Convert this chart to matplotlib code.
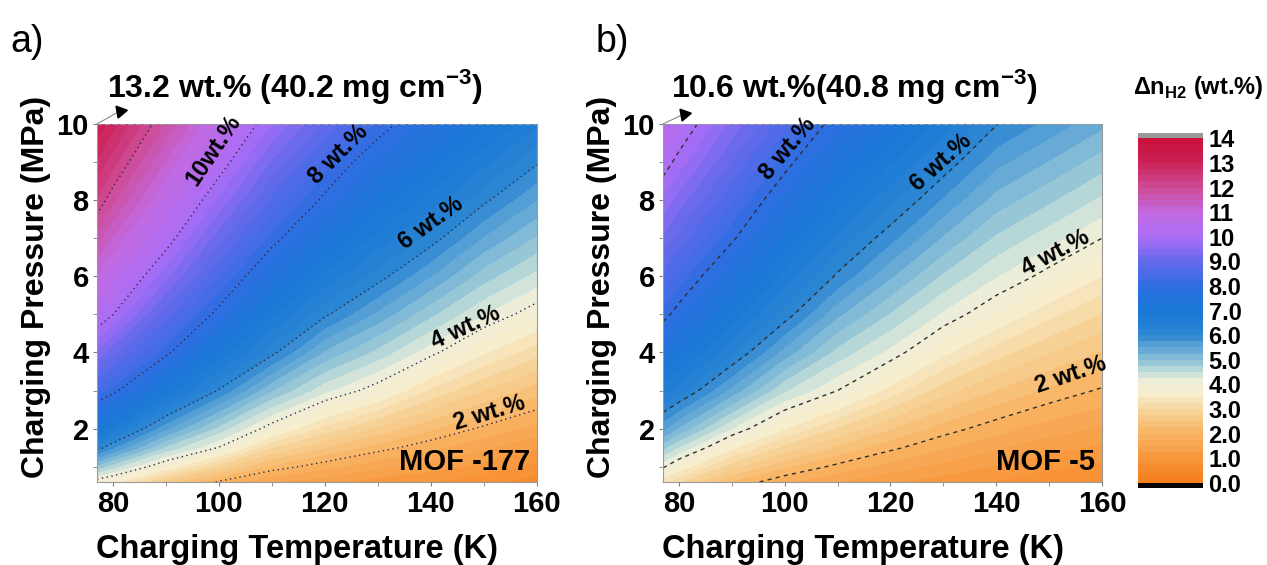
import numpy as np
import matplotlib
matplotlib.use("Agg")
import matplotlib.pyplot as plt
from matplotlib.colors import LinearSegmentedColormap

plt.rcParams['font.family'] = ['Liberation Sans', 'DejaVu Sans']
plt.rcParams['font.weight'] = 'bold'
plt.rcParams['axes.labelweight'] = 'bold'
plt.rcParams['mathtext.fontset'] = 'custom'
plt.rcParams['mathtext.rm'] = 'Liberation Sans'
plt.rcParams['mathtext.bf'] = 'Liberation Sans:bold'

# DATA
temps = [77, 80, 90, 100, 110, 120, 130, 140, 150, 160]          # K
pressures = [0.6, 1, 1.5, 2, 3, 4, 5, 6, 7, 8, 9, 10]             # MPa

# deliverable H2 (wt.%) - one list per temperature, values along pressures
mof177_wt = [
    [3.80, 4.90, 6.15, 6.99, 8.41, 9.44, 10.30, 10.96, 11.63, 12.22, 12.71, 13.20],
    [3.61, 4.58, 5.78, 6.64, 8.12, 9.07, 10.01, 10.62, 11.22, 11.82, 12.35, 12.85],
    [2.60, 3.70, 4.68, 5.55, 6.93, 8.11, 8.83, 9.56, 10.20, 10.70, 11.20, 11.71],
    [1.96, 2.85, 3.98, 4.65, 5.97, 6.92, 7.86, 8.50, 9.09, 9.68, 10.21, 10.67],
    [1.50, 2.17, 3.00, 3.83, 5.01, 6.09, 6.79, 7.50, 8.16, 8.68, 9.21, 9.73],
    [1.35, 1.83, 2.49, 3.15, 4.31, 5.20, 6.06, 6.68, 7.29, 7.91, 8.37, 8.95],
    [1.10, 1.56, 2.12, 2.69, 3.83, 4.66, 5.43, 6.13, 6.65, 7.16, 7.68, 8.20],
    [0.99, 1.36, 1.82, 2.28, 3.20, 4.09, 4.80, 5.50, 6.14, 6.63, 7.12, 7.60],
    [0.84, 1.15, 1.55, 1.94, 2.74, 3.53, 4.25, 4.86, 5.47, 6.07, 6.57, 7.07],
    [0.62, 0.91, 1.27, 1.64, 2.36, 3.09, 3.82, 4.41, 4.96, 5.50, 6.04, 6.53],
]
mof5_wt = [
    [3.33, 4.05, 4.81, 5.57, 6.59, 7.40, 8.14, 8.66, 9.18, 9.70, 10.18, 10.60],
    [3.01, 3.69, 4.47, 5.21, 6.35, 7.10, 7.84, 8.39, 8.89, 9.38, 9.88, 10.31],
    [2.22, 2.82, 3.56, 4.24, 5.41, 6.30, 6.90, 7.49, 8.07, 8.52, 8.97, 9.42],
    [1.80, 2.28, 2.90, 3.51, 4.52, 5.39, 6.15, 6.65, 7.15, 7.66, 8.14, 8.58],
    [1.50, 1.92, 2.44, 2.96, 4.00, 4.65, 5.30, 5.95, 6.42, 6.88, 7.34, 7.81],
    [1.28, 1.63, 2.07, 2.51, 3.39, 4.17, 4.72, 5.28, 5.83, 6.32, 6.77, 7.22],
    [1.12, 1.41, 1.77, 2.13, 2.85, 3.56, 4.20, 4.70, 5.21, 5.71, 6.18, 6.62],
    [0.97, 1.22, 1.53, 1.85, 2.48, 3.11, 3.74, 4.26, 4.70, 5.14, 5.58, 6.02],
    [0.82, 1.05, 1.34, 1.62, 2.19, 2.76, 3.32, 3.89, 4.35, 4.79, 5.23, 5.66],
    [0.74, 0.95, 1.20, 1.46, 1.96, 2.47, 2.98, 3.49, 4.00, 4.44, 4.87, 5.31],
]

# contour-line labels: (text, T, P, angle)
labels_a = [("10wt.%", 99.0, 9.3, 56), ("8 wt.%", 122.5, 9.2, 45),
            ("6 wt.%", 140.0, 7.4, 36), ("4 wt.%", 146.5, 4.65, 25),
            ("2 wt.%", 151.0, 2.4, 17)]
labels_b = [("8 wt.%", 100.5, 9.35, 50), ("6 wt.%", 129.5, 9.0, 42),
            ("4 wt.%", 151.1, 6.6, 28), ("2 wt.%", 154.0, 3.4, 19)]

cbar_ticks = list(range(0, 15))

# COLORMAP
cmap_pts = [
    (0.0, (245, 125, 25)), (1.0, (248, 150, 60)), (2.0, (248, 180, 100)),
    (3.0, (247, 215, 160)), (3.6, (248, 238, 205)), (4.2, (235, 238, 220)),
    (4.7, (170, 210, 215)), (5.3, (110, 175, 215)), (6.0, (45, 135, 210)),
    (7.0, (25, 120, 215)), (8.0, (45, 110, 225)), (9.0, (100, 105, 235)),
    (10.0, (170, 110, 245)), (11.0, (195, 105, 225)), (12.0, (205, 75, 150)),
    (13.0, (205, 35, 90)), (14.0, (200, 15, 55)),
]
cmap = LinearSegmentedColormap.from_list(
    "h2", [(v / 14.0, tuple(c / 255 for c in rgb)) for v, rgb in cmap_pts])
cmap.set_over("#9a9a9a")
cmap.set_under("black")
levels = np.linspace(0, 14, 57)

fig = plt.figure(figsize=(12.67, 5.65), dpi=100)
ax_a = fig.add_axes([0.0766, 0.147, 0.347, 0.6336])
ax_b = fig.add_axes([0.5233, 0.147, 0.3465, 0.6336])
cax = fig.add_axes([0.8982, 0.1363, 0.0513, 0.628])


def draw_panel(ax, wt, line_levels, ls, lcolor, labels, name, top_text, tri_xy):
    Z = np.array(wt).T
    cf = ax.contourf(temps, pressures, Z, levels=levels, cmap=cmap, extend='both')
    ax.contour(temps, pressures, Z, levels=line_levels, colors=lcolor,
               linestyles=[ls], linewidths=1.0)
    for txt, t, p, ang in labels:
        ax.text(t, p, txt, rotation=ang, fontsize=17, ha='center', va='center',
                rotation_mode='anchor')
    ax.text(0.985, 0.055, name, transform=ax.transAxes, fontsize=21,
            ha='right', va='center')
    ax.set_xlim(77, 160)
    ax.set_ylim(0.6, 10)
    ax.set_xticks([80, 100, 120, 140, 160])
    ax.set_xticks([90, 110, 130, 150], minor=True)
    ax.set_yticks([2, 4, 6, 8, 10])
    ax.set_yticks([1, 3, 5, 7, 9], minor=True)
    ax.tick_params(which='both', direction='out', length=3, color='0.5',
                   labelsize=21, pad=3)
    ax.set_xlabel("Charging Temperature (K)", fontsize=23.5, labelpad=11, x=0.455)
    ax.set_ylabel("Charging Pressure (MPa)", fontsize=23, labelpad=4, y=0.545)
    for s in ax.spines.values():
        s.set_color('0.6')
        s.set_linewidth(0.8)
    ax.spines['top'].set_linestyle((0, (4, 3)))
    # annotation with arrow to the top-left corner
    ax.text(tri_xy[0] - 0.03, 1.105, top_text, transform=ax.transAxes,
            fontsize=23, ha='left', va='center')
    ax.plot([0, tri_xy[0]], [1, tri_xy[1]], color='0.55', lw=0.8,
            transform=ax.transAxes, clip_on=False)
    ax.plot([tri_xy[0]], [tri_xy[1]], marker=(3, 0, 160), ms=10, color='k',
            transform=ax.transAxes, clip_on=False)
    return cf


cf = draw_panel(ax_a, mof177_wt, [2, 4, 6, 8, 10, 12], (0, (1, 2.5)), '#2b2b4a',
                labels_a, "MOF -177", r"13.2 wt.% (40.2 mg cm$^{\mathbf{-3}}$)",
                (0.052, 1.036))
draw_panel(ax_b, mof5_wt, [2, 4, 6, 8, 10], (0, (3, 3)), '#2f2f2f', labels_b,
           "MOF -5", r"10.6 wt.%(40.8 mg cm$^{\mathbf{-3}}$)", (0.048, 1.028))

cb = fig.colorbar(cf, cax=cax, extend='both', extendrect=True, extendfrac=0.015)
cb.set_ticks(cbar_ticks)
cb.set_ticklabels([f"{v:.1f}" if v < 10 else f"{v}" for v in cbar_ticks])
cb.ax.tick_params(length=0, labelsize=17, pad=4)
cb.outline.set_visible(False)
fig.text(0.946, 0.845, r"$\Delta$n$_{\mathbf{H2}}$ (wt.%)", fontsize=17,
         ha='center', va='center')

fig.text(0.008, 0.925, "a)", fontsize=27, fontweight='normal', va='center')
fig.text(0.470, 0.925, "b)", fontsize=27, fontweight='normal', va='center')

fig.savefig("out.png", dpi=100)
